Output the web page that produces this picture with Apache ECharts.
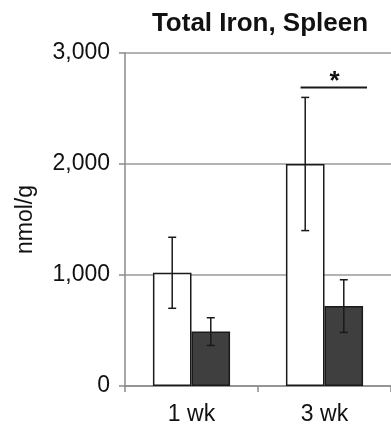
<!DOCTYPE html>
<html><head><meta charset="utf-8">
<script src="https://cdn.jsdelivr.net/npm/echarts@6/dist/echarts.min.js"></script>
<style>html,body{margin:0;padding:0;background:#fff}#c{width:391px;height:428px}</style>
</head><body><div id="c"></div>
<script>
const categories = ['1 wk', '3 wk'];
const controlMeans = [1020, 2000];
const controlErrors = [320, 600];
const treatedMeans = [490, 720];
const treatedErrors = [125, 237];
const yTicks = [0, 1000, 2000, 3000];
const sigCategory = 1;
const sigValue = 2690;
const sigLabel = '*';

const FONT = '"Liberation Sans", Arial, sans-serif';
const BAR_FRAC = 0.29;

function errData(means, errs) {
  return means.map((m, i) => [i, m, m + errs[i], m - errs[i]]);
}
function errorRenderer(sign) {
  return function (params, api) {
    const i = api.value(0);
    const band = api.size([1, 0])[0];
    const c = api.coord([i, api.value(1)]);
    const x = c[0] + sign * band * BAR_FRAC / 2;
    const hi = api.coord([i, api.value(2)])[1];
    const lo = api.coord([i, api.value(3)])[1];
    const cap = 4;
    const st = { stroke: '#1a1a1a', lineWidth: 1.5 };
    return { type: 'group', children: [
      { type: 'line', shape: { x1: x, y1: hi, x2: x, y2: lo }, style: st },
      { type: 'line', shape: { x1: x - cap, y1: hi, x2: x + cap, y2: hi }, style: st },
      { type: 'line', shape: { x1: x - cap, y1: lo, x2: x + cap, y2: lo }, style: st }
    ]};
  };
}

const chart = echarts.init(document.getElementById('c'));
chart.setOption({
  animation: false,
  backgroundColor: '#fff',
  title: {
    text: 'Total Iron, Spleen', left: 255, top: 6, textAlign: 'center',
    textStyle: { fontFamily: FONT, fontSize: 26, fontWeight: 'bold', color: '#111' }
  },
  grid: { left: 125, top: 53, width: 268, height: 333 },
  xAxis: {
    type: 'category', data: categories,
    axisLine: { lineStyle: { color: '#8a8a8a', width: 1.5 } },
    axisTick: { show: true, length: 6, lineStyle: { color: '#8a8a8a', width: 1.5 } },
    axisLabel: { fontFamily: FONT, fontSize: 23, color: '#111', margin: 17 }
  },
  yAxis: {
    type: 'value', min: yTicks[0], max: yTicks[yTicks.length - 1], interval: 1000,
    name: 'nmol/g', nameLocation: 'middle', nameRotate: 90, nameGap: 88,
    nameTextStyle: { fontFamily: FONT, fontSize: 23, color: '#111' },
    axisLine: { show: true, lineStyle: { color: '#8a8a8a', width: 1.5 } },
    axisTick: { show: true, length: 6, lineStyle: { color: '#8a8a8a', width: 1.5 } },
    axisLabel: { fontFamily: FONT, fontSize: 23, color: '#111', margin: 15,
      formatter: v => v.toLocaleString('en-US') },
    splitLine: { show: true, lineStyle: { color: '#9a9a9a', width: 1.5 } }
  },
  series: [
    { type: 'bar', data: controlMeans, barWidth: (BAR_FRAC * 100) + '%', barGap: '0%',
      itemStyle: { color: '#fff', borderColor: '#1a1a1a', borderWidth: 1.5 }, z: 3 },
    { type: 'bar', data: treatedMeans, barWidth: (BAR_FRAC * 100) + '%',
      itemStyle: { color: '#3f3f3f', borderColor: '#1a1a1a', borderWidth: 1.5 }, z: 3 },
    { type: 'custom', data: errData(controlMeans, controlErrors), renderItem: errorRenderer(-1), z: 5 },
    { type: 'custom', data: errData(treatedMeans, treatedErrors), renderItem: errorRenderer(1), z: 5 },
    { type: 'custom', data: [[sigCategory, sigValue]], z: 5,
      renderItem: function (params, api) {
        const band = api.size([1, 0])[0];
        const c = api.coord([api.value(0), api.value(1)]);
        return { type: 'group', children: [
          { type: 'line', shape: { x1: c[0] - 0.18 * band, y1: c[1], x2: c[0] + 0.32 * band, y2: c[1] },
            style: { stroke: '#1a1a1a', lineWidth: 2 } },
          { type: 'text', x: c[0] + 0.075 * band, y: c[1] + 7,
            style: { text: sigLabel, fontFamily: FONT, fontSize: 26, fontWeight: 'bold',
              fill: '#111', align: 'center', verticalAlign: 'bottom' } }
        ]};
      } }
  ]
});
</script></body></html>
